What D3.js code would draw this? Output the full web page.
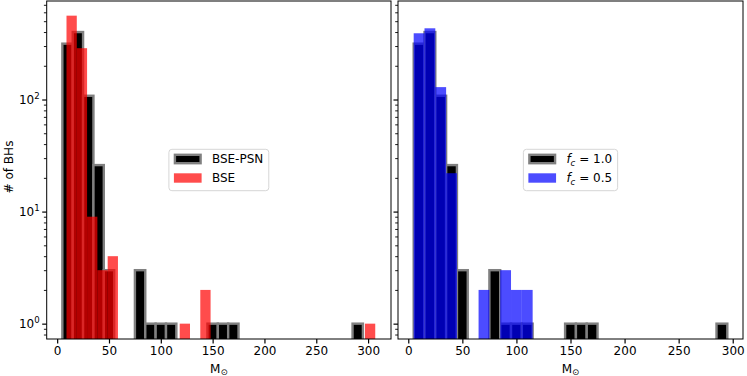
<!DOCTYPE html>
<html><head><meta charset="utf-8">
<script src="https://cdn.jsdelivr.net/npm/d3@7"></script>
<style>
body{margin:0;background:#fff}
svg{display:block}
text{font-family:"DejaVu Sans",sans-serif;fill:#000}
</style>
</head><body>
<svg id="c" width="747" height="376"></svg>
<script>
// ---------- data ----------
// BSE-PSN (fc = 1.0): 29 bins of width 10 starting at 5 Msun
const psnStart = 5, psnWidth = 10;
const countsPSN = [315, 400, 108, 26, 3, 0, 0, 3, 1, 1, 1, 0, 0, 0, 1, 1, 1, 0, 0, 0, 0, 0, 0, 0, 0, 0, 0, 0, 1];
// BSE: 30 bins starting at 9 Msun
const bseStart = 9, bseWidth = 9.93;
const countsBSE = [560, 287, 9, 3, 4, 0, 0, 0, 0, 0, 0, 1, 0, 2, 0, 0, 0, 0, 0, 0, 0, 0, 0, 0, 0, 0, 0, 0, 0, 1];
// fc = 0.5: same binning as BSE-PSN
const fc05Start = 5, fc05Width = 10;
const countsFC05 = [390, 432, 129, 22, 0, 0, 2, 0, 3, 2, 2];

const xTicks = [0, 50, 100, 150, 200, 250, 300];
const yMajor = [1, 10, 100];
const yMajorExp = ["0", "1", "2"];
const yMinor = [0.8, 0.9, 2, 3, 4, 5, 6, 7, 8, 9, 20, 30, 40, 50, 60, 70, 80, 90, 200, 300, 400, 500, 600, 700];
const legendLeft = ["BSE-PSN", "BSE"];
const legendRight = ["1.0", "0.5"];

// ---------- layout ----------
const svg = d3.select("#c");
const yTop = 1, yBot = 339;
const y = d3.scaleLog().domain([0.7296, 756.8]).range([yBot, yTop]);

const panels = [
  {x0: 46.7, x1: 391, dom: [-10.1, 322.1]},
  {x0: 398, x1: 743, dom: [-9.5, 309.5]}
];

function drawHist(g, x, start, width, counts, fill, opacity, stroke, sw) {
  g.selectAll(null).data(counts.map((c, i) => ({c, i})).filter(d => d.c > 0))
    .enter().append("rect")
    .attr("x", d => x(start + d.i * width))
    .attr("width", d => x(start + (d.i + 1) * width) - x(start + d.i * width))
    .attr("y", d => y(d.c))
    .attr("height", d => yBot + 3 - y(d.c))
    .attr("fill", fill)
    .attr("fill-opacity", opacity)
    .attr("stroke", stroke || "none")
    .attr("stroke-width", sw || 0);
}

function legend(cx, cy, labels, types) {
  const g = svg.append("g");
  const box = g.append("rect");
  const texts = [];
  const rows = [cy - 11, cy + 8];
  labels.forEach((lab, i) => {
    const t = g.append("text").attr("y", rows[i] + 4.3).attr("font-size", 12);
    if (types === "fc") {
      t.append("tspan").attr("font-style", "italic").text("f");
      t.append("tspan").attr("font-style", "italic").attr("font-size", 8.6).attr("dy", 2.6).text("c");
      t.append("tspan").attr("dy", -2.6).text(" = " + lab);
    } else {
      t.text(lab);
    }
    texts.push(t);
  });
  const tw = d3.max(texts, t => t.node().getComputedTextLength());
  const w = 43 + tw + 5.5;
  const left = cx - w / 2;
  box.attr("x", left).attr("y", cy - 20.7).attr("width", w).attr("height", 41.4)
    .attr("rx", 3).attr("fill", "#fff").attr("fill-opacity", 0.8)
    .attr("stroke", "#d6d6d6").attr("stroke-width", 1);
  texts.forEach(t => t.attr("x", left + 43));
  g.append("rect").attr("x", left + 6).attr("y", rows[0] - 4.2).attr("width", 25.7).attr("height", 8.4)
    .attr("fill", "#000").attr("stroke", "#808080").attr("stroke-width", 2.4);
  g.append("rect").attr("x", left + 5).attr("y", rows[1] - 4.7).attr("width", 27.7).attr("height", 9.4)
    .attr("fill", types === "fc" ? "#0000ff" : "#ff0000").attr("fill-opacity", 0.7);
}

panels.forEach((p, pi) => {
  const x = d3.scaleLinear().domain(p.dom).range([p.x0, p.x1]);
  const clipId = "clip" + pi;
  svg.append("clipPath").attr("id", clipId).append("rect")
    .attr("x", p.x0).attr("y", yTop).attr("width", p.x1 - p.x0).attr("height", yBot - yTop);
  const g = svg.append("g").attr("clip-path", `url(#${clipId})`);
  drawHist(g, x, psnStart, psnWidth, countsPSN, "#000", 1, "#808080", 2.4);
  if (pi === 0) drawHist(g, x, bseStart, bseWidth, countsBSE, "#ff0000", 0.7);
  else drawHist(g, x, fc05Start, fc05Width, countsFC05, "#0000ff", 0.7);

  const xa = svg.append("g").attr("transform", `translate(0,${yBot})`)
    .call(d3.axisBottom(x).tickValues(xTicks).tickSize(4.5).tickPadding(3).tickFormat(d3.format("d")));
  xa.select(".domain").remove();
  xa.selectAll(".tick line").attr("stroke", "#000").attr("stroke-width", 1.2);
  xa.selectAll(".tick text").attr("font-size", 12).attr("font-family", "DejaVu Sans").attr("fill", "#000");

  const ya = svg.append("g").attr("transform", `translate(${p.x0},0)`)
    .call(d3.axisLeft(y).tickValues(yMajor).tickSize(4.5).tickFormat(""));
  ya.select(".domain").remove();
  ya.selectAll(".tick line").attr("stroke", "#000").attr("stroke-width", 1.2);
  const ym = svg.append("g").attr("transform", `translate(${p.x0},0)`)
    .call(d3.axisLeft(y).tickValues(yMinor).tickSize(2.8).tickFormat(""));
  ym.select(".domain").remove();
  ym.selectAll(".tick line").attr("stroke", "#000").attr("stroke-width", 0.9);

  if (pi === 0) {
    yMajor.forEach((v, i) => {
      const t = svg.append("text").attr("x", p.x0 - 7).attr("y", y(v) + 4.3)
        .attr("text-anchor", "end").attr("font-size", 12);
      t.append("tspan").text("10");
      t.append("tspan").attr("font-size", 8.6).attr("dy", -5).text(yMajorExp[i]);
    });
  }

  svg.append("rect").attr("x", p.x0).attr("y", yTop).attr("width", p.x1 - p.x0).attr("height", yBot - yTop)
    .attr("fill", "none").attr("stroke", "#000").attr("stroke-width", 1);

  const cx = (p.x0 + p.x1) / 2;
  const xl = svg.append("text").attr("x", cx).attr("y", 373).attr("text-anchor", "middle").attr("font-size", 12);
  xl.append("tspan").text("M");
  xl.append("tspan").attr("font-size", 8.6).attr("dy", 2).text("⊙");

  legend(cx, 170, pi === 0 ? legendLeft : legendRight, pi === 0 ? "plain" : "fc");
});

svg.append("text").attr("transform", "translate(12.5,167) rotate(-90)")
  .attr("text-anchor", "middle").attr("font-size", 12).text("# of BHs");
</script>
</body></html>
